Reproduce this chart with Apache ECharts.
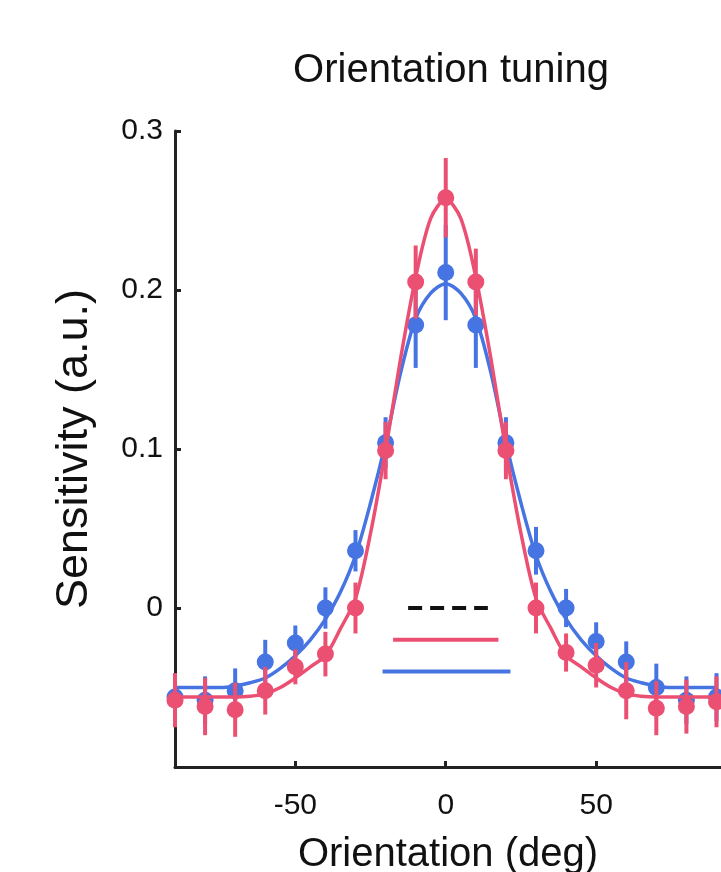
<!DOCTYPE html>
<html>
<head>
<meta charset="utf-8">
<title>Orientation tuning</title>
<script src="https://cdn.jsdelivr.net/npm/echarts@6.0.0/dist/echarts.min.js"></script>
<style>
	html, body { margin: 0; padding: 0; background: #fff; }
	#tuning { width: 721px; height: 872px; }
</style>
</head>
<body>
<div id="tuning"></div>
<script>
	// measured orientations (deg)
	var orientations = [-90, -80, -70, -60, -50, -40, -30, -20, -10, 0, 10, 20, 30, 40, 50, 60, 70, 80, 90];
	var blueMean = [-0.056, -0.058, -0.052, -0.034, -0.022, 0.000, 0.036, 0.104, 0.178, 0.211, 0.178, 0.104, 0.036, 0.000, -0.021, -0.034, -0.050, -0.058, -0.056];
	var blueErr = [0.015, 0.015, 0.014, 0.014, 0.011, 0.013, 0.013, 0.016, 0.027, 0.030, 0.027, 0.016, 0.015, 0.012, 0.012, 0.013, 0.015, 0.015, 0.015];
	var redMean = [-0.058, -0.062, -0.064, -0.052, -0.037, -0.029, 0.000, 0.099, 0.205, 0.258, 0.205, 0.099, 0.000, -0.028, -0.036, -0.052, -0.063, -0.062, -0.059];
	var redErr = [0.017, 0.018, 0.017, 0.015, 0.011, 0.014, 0.016, 0.018, 0.023, 0.025, 0.021, 0.018, 0.016, 0.012, 0.014, 0.018, 0.017, 0.017, 0.016];

	// fitted curves, read every 5 deg
	var curveX = [-90, -85, -80, -75, -70, -65, -60, -55, -50, -45, -40, -35, -30, -25, -20, -15, -10, -5, 0,
		5, 10, 15, 20, 25, 30, 35, 40, 45, 50, 55, 60, 65, 70, 75, 80, 85, 90];
	var blueFit = [-0.050, -0.050, -0.050, -0.050, -0.049, -0.047, -0.044, -0.038, -0.030, -0.020, -0.007, 0.010, 0.033, 0.066, 0.104, 0.148, 0.182, 0.198, 0.204,
		0.198, 0.182, 0.148, 0.104, 0.066, 0.033, 0.010, -0.007, -0.020, -0.030, -0.038, -0.044, -0.047, -0.049, -0.050, -0.050, -0.050, -0.050];
	var redFit = [-0.056, -0.056, -0.056, -0.056, -0.056, -0.0555, -0.054, -0.050, -0.044, -0.037, -0.030, -0.013, 0.006, 0.047, 0.099, 0.157, 0.208, 0.245, 0.257,
		0.245, 0.208, 0.157, 0.099, 0.047, 0.006, -0.013, -0.030, -0.037, -0.044, -0.050, -0.054, -0.0555, -0.056, -0.056, -0.056, -0.056, -0.056];

	// width bars under the peak: [from, to, level]
	var blackWidth = [-12.5, 14, 0];
	var redWidth = [-17.5, 17.5, -0.02];
	var blueWidth = [-21, 21.5, -0.04];

	var xTicks = [-50, 0, 50];
	var yTicks = [0, 0.1, 0.2, 0.3];

	var BLUE = '#4674e2';
	var RED = '#eb5073';
	var FONT = 'Liberation Sans, Arial, sans-serif';

	function pairs(xs, ys) {
		var out = [];
		for (var i = 0; i < xs.length; i++) {
			out.push([xs[i], ys[i]]);
		}
		return out;
	}

	function triples(xs, ys, es) {
		var out = [];
		for (var i = 0; i < xs.length; i++) {
			out.push([xs[i], ys[i], es[i]]);
		}
		return out;
	}

	function errorBars(color) {
		return function (params, api) {
			var x = api.value(0), y = api.value(1), e = api.value(2);
			var p1 = api.coord([x, y - e]);
			var p2 = api.coord([x, y + e]);
			return {
				type: 'line',
				shape: { x1: p1[0], y1: p1[1], x2: p2[0], y2: p2[1] },
				style: { stroke: color, lineWidth: 4 }
			};
		};
	}

	function widthLine(w, color, dashed) {
		return {
			type: 'line',
			data: [[w[0], w[2]], [w[1], w[2]]],
			symbol: 'none',
			silent: true,
			lineStyle: { color: color, width: 4, type: dashed ? [14, 8] : 'solid' },
			z: 5
		};
	}

	var chart = echarts.init(document.getElementById('tuning'));
	chart.setOption({
		animation: false,
		title: {
			text: 'Orientation tuning',
			left: 446,
			top: 46,
			textAlign: 'center',
			textStyle: { fontFamily: FONT, fontWeight: 'normal', fontSize: 40, color: '#111' }
		},
		grid: { left: 175, right: 0, top: 131, bottom: 105, outerBoundsMode: 'none' },
		xAxis: {
			type: 'value',
			min: -90,
			max: 91.5,
			name: 'Orientation (deg)',
			nameLocation: 'middle',
			nameGap: 68,
			nameTextStyle: { fontFamily: FONT, fontSize: 40, color: '#111' },
			axisLine: { onZero: false, lineStyle: { color: '#222', width: 3 } },
			axisTick: { inside: true, length: 6, customValues: xTicks, lineStyle: { color: '#222', width: 3 } },
			axisLabel: { customValues: xTicks, margin: 24, fontFamily: FONT, fontSize: 30, color: '#111' },
			splitLine: { show: false }
		},
		yAxis: {
			type: 'value',
			min: -0.1,
			max: 0.3,
			interval: 0.1,
			name: 'Sensitivity (a.u.)',
			nameLocation: 'middle',
			nameGap: 78,
			nameTextStyle: { fontFamily: FONT, fontSize: 45, color: '#111' },
			axisLine: { show: true, onZero: false, lineStyle: { color: '#222', width: 3 } },
			axisTick: { inside: true, length: 6, customValues: yTicks, lineStyle: { color: '#222', width: 3 } },
			axisLabel: {
				customValues: yTicks,
				margin: 12,
				fontFamily: FONT,
				fontSize: 30,
				color: '#111',
				formatter: function (v) { return v === 0 ? '0' : v.toFixed(1); }
			},
			splitLine: { show: false }
		},
		series: [
			{
				type: 'line',
				data: pairs(curveX, blueFit),
				smooth: 0.3,
				symbol: 'none',
				lineStyle: { color: BLUE, width: 3.5 },
				z: 2
			},
			{
				type: 'custom',
				data: triples(orientations, blueMean, blueErr),
				renderItem: errorBars(BLUE),
				z: 2
			},
			{
				type: 'scatter',
				data: pairs(orientations, blueMean),
				symbolSize: 17,
				itemStyle: { color: BLUE, opacity: 1 },
				z: 2
			},
			{
				type: 'line',
				data: pairs(curveX, redFit),
				smooth: 0.3,
				symbol: 'none',
				lineStyle: { color: RED, width: 3.5 },
				z: 3
			},
			{
				type: 'custom',
				data: triples(orientations, redMean, redErr),
				renderItem: errorBars(RED),
				z: 3
			},
			{
				type: 'scatter',
				data: pairs(orientations, redMean),
				symbolSize: 17,
				itemStyle: { color: RED, opacity: 1 },
				z: 3
			},
			widthLine(blackWidth, '#111', true),
			widthLine(redWidth, RED, false),
			widthLine(blueWidth, BLUE, false)
		]
	});
</script>
</body>
</html>
